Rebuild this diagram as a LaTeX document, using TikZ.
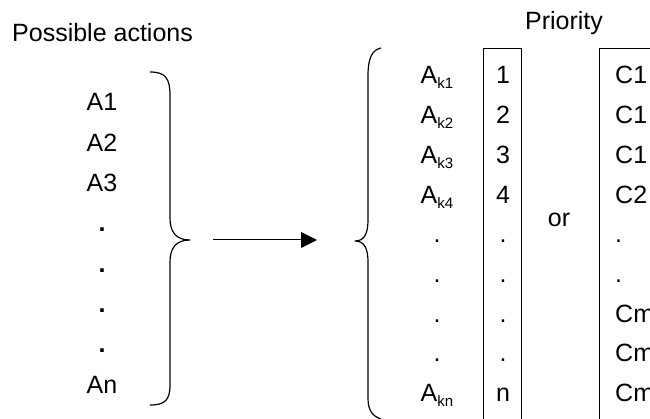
\documentclass[tikz,border=0pt]{standalone}
\usepackage{fontspec}
\setmainfont{Liberation Sans}
\usetikzlibrary{arrows.meta}
% A with a lowered "k" index
\newcommand\Aksub[1]{A\raisebox{-5pt}{\fontsize{15}{15}\selectfont k#1}}
\begin{document}
\begin{tikzpicture}[x=1pt,y=-1pt,
  lbl/.style={font=\fontsize{25}{30}\selectfont, inner sep=0pt, anchor=base},
  bracepath/.style={line width=1.2pt, line join=round},
  colbox/.style={draw, line width=1.3pt, inner sep=0pt, anchor=north west},
  flow/.style={line width=1pt, -{Triangle[length=16pt,width=16pt]}},
]
\useasboundingbox (0,0) rectangle (650,419);
\clip (0,0) rectangle (650,419);

% headings
\node[lbl, anchor=base west] (title) at (12,42) {Possible actions};
\node[lbl] (prio) at (564,30) {Priority};

% unordered list of actions
\foreach \t/\nm [count=\i from 0] in {A1/a1, A2/a2, A3/a3,
    \textbf{.}/d1, \textbf{.}/d2, \textbf{.}/d3, \textbf{.}/d4, An/an}
  \node[lbl] (\nm) at (102,{111+40.3*\i}) {\t};

% left brace, closing
\draw[bracepath] (150,72) .. controls (165,72) and (170,78) .. (170,95)
  -- (170,218) .. controls (170,232) and (176,240) .. (190,240)
  .. controls (176,240) and (170,248) .. (170,262)
  -- (170,385) .. controls (170,400) and (165,405) .. (150,405);

% transformation arrow
\coordinate (arrS) at (213,240);
\coordinate (arrE) at (317,240);
\draw[flow] (arrS) -- (arrE);

% right brace, opening
\draw[bracepath] (381,48) .. controls (372,50) and (368,58) .. (368,76)
  -- (368,220) .. controls (368,234) and (364,241) .. (355,241)
  .. controls (364,241) and (368,248) .. (368,262)
  -- (368,398) .. controls (368,410) and (372,416) .. (381,419);

% ordered actions
\foreach \t/\nm [count=\i from 0] in {\Aksub{1}/k1, \Aksub{2}/k2, \Aksub{3}/k3,
    \Aksub{4}/k4, ./e1, ./e2, ./e3, ./e4, \Aksub{n}/kn}
  \node[lbl] (\nm) at (437,{84+39.7*\i}) {\t};

% rank column
\node[colbox, minimum width=38pt, minimum height=390pt] (rank) at (483,48) {};
\foreach \t [count=\i from 0] in {1,2,3,4,.,.,.,.,n}
  \node[lbl] (r\i) at (503,{84+39.7*\i}) {\t};

\node[lbl] (or) at (559,227) {or};

% criticality column
\node[colbox, minimum width=100pt, minimum height=390pt] (crit) at (599,48) {};
\foreach \t [count=\i from 0] in {C1,C1,C1,C2,.,.,Cm,Cm,Cm}
  \node[lbl, anchor=base west] (c\i) at (615,{84+39.7*\i}) {\t};
\end{tikzpicture}
\end{document}
